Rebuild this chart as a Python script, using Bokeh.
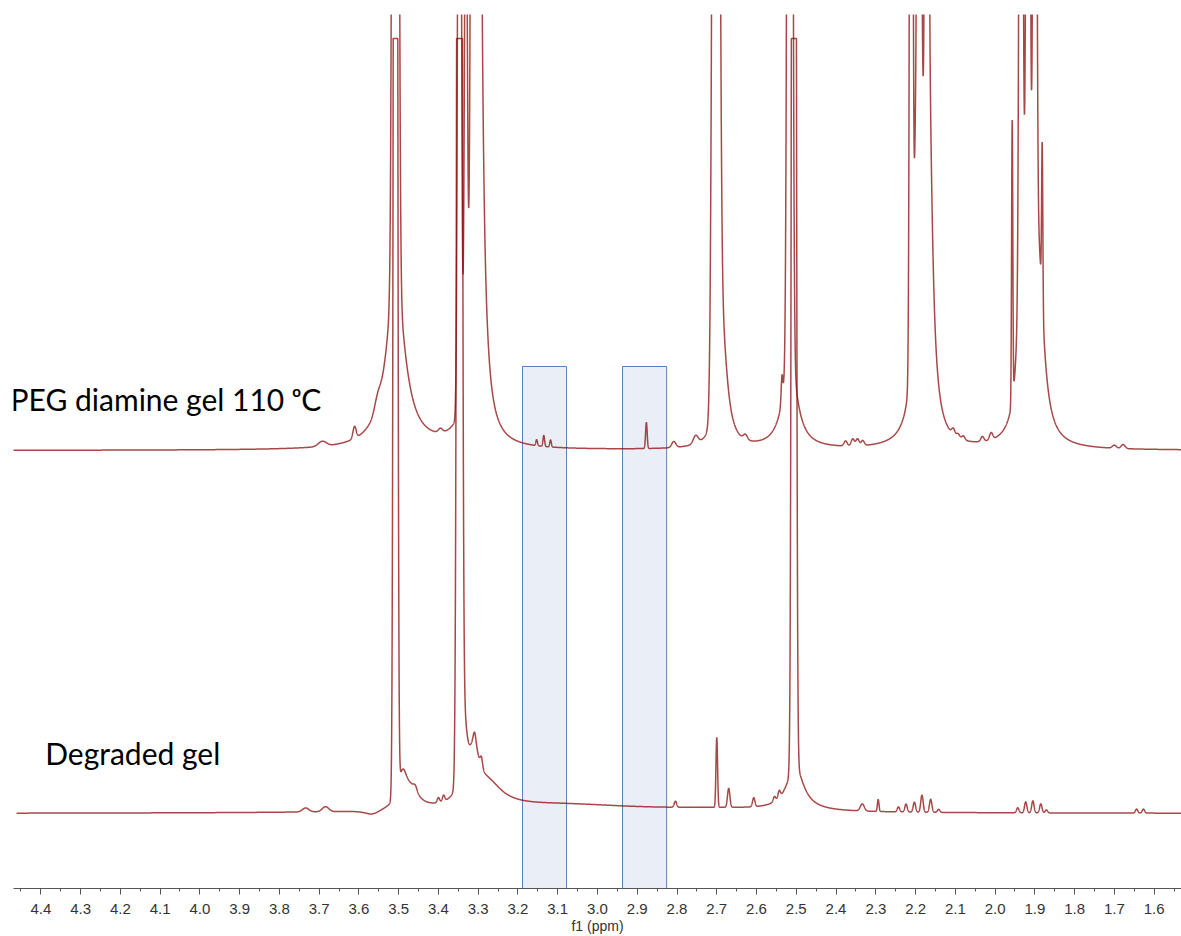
import numpy as np
from bokeh.plotting import figure
from bokeh.models import Range1d, FixedTicker, PrintfTickFormatter, BoxAnnotation, Label
from bokeh.embed import file_html
from bokeh.resources import INLINE

# ---------------------------------------------------------------- data
# x axis (chemical shift, ppm) - drawn high to low
ppm_start, ppm_end = 4.4687, 1.5312
tick_values = [4.4, 4.3, 4.2, 4.1, 4.0, 3.9, 3.8, 3.7, 3.6, 3.5, 3.4, 3.3, 3.2,
               3.1, 3.0, 2.9, 2.8, 2.7, 2.6, 2.5, 2.4, 2.3, 2.2, 2.1, 2.0, 1.9,
               1.8, 1.7, 1.6]
minor_values = [4.45, 4.35, 4.25, 4.15, 4.05, 3.95, 3.85, 3.75, 3.65, 3.55, 3.45,
                3.35, 3.25, 3.15, 3.05, 2.95, 2.85, 2.75, 2.65, 2.55, 2.45, 2.35,
                2.25, 2.15, 2.05, 1.95, 1.85, 1.75, 1.65, 1.55]

# upper spectrum: PEG diamine gel 110 oC (stacked, baseline offset)
top_offset = 438
top_g_ppm = [3.692, 3.611, 3.553, 3.508, 3.395, 3.347, 3.331, 3.316, 3.153, 3.135,
             3.118, 2.877, 2.808, 2.753, 2.702, 2.628, 2.536, 2.516, 2.376, 2.358,
             2.346, 2.333, 2.211, 2.191, 2.172, 2.105, 2.093, 2.080, 2.032, 2.010,
             1.957, 1.935, 1.917, 1.900, 1.8815, 1.700, 1.678]
top_g_height = [5, 12, 10, 3000, 4, 1150, 560, 600, 6, 11,
                7, 26, 6, 8, 2000, 5, 25, 2500, 5, 7,
                7, 5, 1500, 1500, 1800, 6, 4, 4, 5, 7,
                280, 1200, 1200, 1200, 160, 3, 4]
top_g_sigma = [0.010, 0.004, 0.0075, 0.005, 0.005, 0.0036, 0.0034, 0.0034, 0.002, 0.002,
               0.002, 0.002, 0.005, 0.006, 0.0063, 0.005, 0.002, 0.0045, 0.004, 0.004,
               0.004, 0.004, 0.003, 0.003, 0.003, 0.004, 0.004, 0.004, 0.004, 0.004,
               0.0015, 0.0035, 0.0035, 0.0035, 0.0015, 0.005, 0.005]
top_l_ppm = [3.508, 3.301, 2.686, 2.516, 2.201, 2.191, 2.167, 1.935, 1.917, 1.8907]
top_l_height = [175, 1500, 120, 96, 60, 620, 360, 150, 250, 170]
top_l_hwhm = [0.027, 0.0072, 0.015, 0.020, 0.004, 0.0075, 0.010, 0.010, 0.010, 0.015]
top_first_ppm = 4.476

# lower spectrum: degraded gel
bottom_offset = 75
bottom_clip = 850
bottom_g_ppm = [3.734, 3.684, 3.508, 3.458, 3.400, 3.387, 3.347, 3.309, 3.292, 2.804,
                2.700, 2.670, 2.607, 2.555, 2.543, 2.506, 2.334, 2.294, 2.243, 2.224,
                2.203, 2.184, 2.162, 2.142, 1.943, 1.923, 1.905, 1.885, 1.871, 1.644,
                1.627]
bottom_g_height = [4, 5, 3000, 4, 5, 6, 3000, 8, 10, 6,
                   70, 19, 9, 5, 7, 3100, 7, 12, 5, 8,
                   10, 17, 13, 3, 5, 11, 12, 9, 3, 4,
                   4]
bottom_g_sigma = [0.008, 0.008, 0.0035, 0.004, 0.003, 0.003, 0.0044, 0.003, 0.003, 0.003,
                  0.002, 0.003, 0.003, 0.003, 0.003, 0.0038, 0.005, 0.002, 0.003, 0.003,
                  0.003, 0.003, 0.003, 0.003, 0.003, 0.003, 0.003, 0.003, 0.003, 0.003,
                  0.003]
bottom_l_ppm = [3.566, 3.490, 3.465, 3.335, 3.310, 3.275, 3.093, 2.690, 2.503]
bottom_l_height = [-5, 35, 15, 70, 45, 22, 8, 3, 45]
bottom_l_hwhm = [0.025, 0.015, 0.020, 0.010, 0.015, 0.045, 0.25, 0.20, 0.025]
bottom_first_ppm = 4.461

# highlighted shift windows
box_left = [3.1885, 2.937]
box_right = [3.0778, 2.826]
box_bottom, box_top = -40, 522

labels = ["PEG diamine gel 110 \u1d52C", "Degraded gel"]
label_ppm = [4.476, 4.389]
label_y = [490, 136]


# ---------------------------------------------------------------- helpers
def spectrum(ppm, offset, g_ppm, g_h, g_s, l_ppm, l_h, l_w):
    """Sum of Gaussian lines and Lorentzian lines on a flat baseline."""
    y = np.full_like(ppm, float(offset))
    for c, h, s in zip(g_ppm, g_h, g_s):
        y += h * np.exp(-0.5 * ((ppm - c) / s) ** 2)
    for c, h, w in zip(l_ppm, l_h, l_w):
        y += h * w * w / (w * w + (ppm - c) ** 2)
    return y


ppm_top = np.arange(top_first_ppm, ppm_end, -0.0002)
y_top = spectrum(ppm_top, top_offset, top_g_ppm, top_g_height, top_g_sigma,
                 top_l_ppm, top_l_height, top_l_hwhm)

ppm_bot = np.arange(bottom_first_ppm, ppm_end, -0.0002)
y_bot = spectrum(ppm_bot, bottom_offset, bottom_g_ppm, bottom_g_height, bottom_g_sigma,
                 bottom_l_ppm, bottom_l_height, bottom_l_hwhm)
y_bot = np.minimum(y_bot, bottom_clip)

# ---------------------------------------------------------------- figure
p = figure(width=1181, height=936,
           x_range=Range1d(ppm_start, ppm_end), y_range=Range1d(0, 874),
           output_backend="svg", toolbar_location=None,
           y_axis_location=None,
           min_border_left=13, min_border_right=0,
           min_border_top=14, min_border_bottom=48)
p.outline_line_color = None
p.xgrid.visible = False
p.ygrid.visible = False
p.background_fill_color = "white"
p.border_fill_color = "white"

for l, r in zip(box_left, box_right):
    p.add_layout(BoxAnnotation(left=l, right=r, bottom=box_bottom, top=box_top,
                               fill_color="#E9EEF7", fill_alpha=1.0,
                               line_color="#4A76AE", line_alpha=0.9, line_width=1,
                               level="underlay"))

trace_color = "#8B0A0A"
p.line(ppm_top, y_top, line_color=trace_color, line_width=1.5, line_alpha=0.75)
p.line(ppm_bot, y_bot, line_color=trace_color, line_width=1.5, line_alpha=0.75)

for txt, xv, yv in zip(labels, label_ppm, label_y):
    p.add_layout(Label(x=xv, y=yv, text=txt, text_font="Lato",
                       text_font_size="30px", text_color="#000000",
                       text_align="left", text_baseline="alphabetic"))

xa = p.xaxis[0]
xa.ticker = FixedTicker(ticks=tick_values, minor_ticks=minor_values)
xa.formatter = PrintfTickFormatter(format="%.1f")
xa.axis_label = "f1 (ppm)"
xa.axis_label_text_font = "Liberation Sans"
xa.axis_label_text_font_size = "14px"
xa.axis_label_text_font_style = "normal"
xa.axis_label_text_color = "#333333"
xa.axis_label_standoff = 1
xa.major_label_text_font = "Liberation Sans"
xa.major_label_text_font_size = "15px"
xa.major_label_text_color = "#333333"
xa.major_label_standoff = 9
xa.axis_line_color = "#555555"
xa.major_tick_line_color = "#555555"
xa.minor_tick_line_color = "#555555"
xa.major_tick_out = 6
xa.major_tick_in = 0
xa.minor_tick_out = 3
xa.minor_tick_in = 0

open("out.html", "w").write(file_html(p, INLINE))
